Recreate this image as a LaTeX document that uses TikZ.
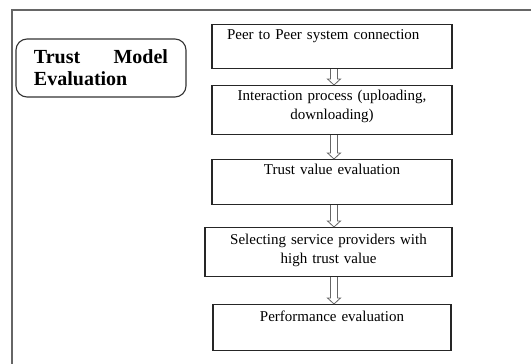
\documentclass[tikz,border=0pt]{standalone}
\usepackage{fontspec}
\setmainfont{Liberation Serif}
\usetikzlibrary{calc}

\tikzset{
  caixa/.style={draw=black!85, line width=1.1pt, inner xsep=0pt, inner ysep=4pt,
    text height=11pt, text width=#1, align=center,
    font=\fontsize{15}{19}\selectfont},
  caixa/.default=240pt,
  % seta vazada (contorno), de \tikztostart ate \tikztotarget
  seta/.style={draw=black!60, line width=0.8pt, line join=miter,
    to path={($(\tikztostart)+(-1.5,0)$) -- ($(\tikztotarget)+(-1.5,-6)$)
      -- ($(\tikztotarget)+(-4.5,-6)$) -- ($(\tikztotarget)+(2,0)$)
      -- ($(\tikztotarget)+(8.5,-6)$) -- ($(\tikztotarget)+(5.5,-6)$)
      -- ($(\tikztostart)+(5.5,0)$)}}
}

\begin{document}
\begin{tikzpicture}[x=1pt, y=-1pt]
    % x e y em pontos (1pt = 1 pixel da figura), y cresce para baixo
    \useasboundingbox (0,0) rectangle (531,364);

    % Moldura (so topo e lado esquerdo)
    \draw[black!60, line width=1.5pt] (531,10) -- (12,10) -- (12,364);

    % Titulo
    \node[draw=black!80, line width=1.1pt, rounded corners=11pt, minimum width=170pt,
          minimum height=58pt, text width=134pt, align=left, inner sep=0pt,
          font=\fontsize{20}{22}\selectfont\bfseries] (titulo) at (101,68)
          {Trust\hfill Model\\Evaluation};

    % Etapas
    \node[caixa=210pt, align=left, inner xsep=15pt, text depth=25pt, anchor=north] (p1) at (332,24)
          {Peer to Peer system connection};
    \node[caixa, text depth=30pt, anchor=north] (p2) at (332,85)
          {Interaction process (uploading,\\downloading)};
    \node[caixa, text depth=26pt, anchor=north] (p3) at (332,159)
          {Trust value evaluation};
    \node[caixa=247pt, text depth=28pt, text height=13pt, anchor=north] (p4) at (328.5,227)
          {Selecting service providers with\\high trust value};
    \node[caixa=238pt, text depth=25pt, text height=13pt, anchor=north] (p5) at (332,304)
          {Performance evaluation};

    % Setas
    \draw[seta] (p1.south) to (p2.north);
    \draw[seta] (p2.south) to (p3.north);
    \draw[seta] (p3.south) to (p3.south |- p4.north);
    \draw[seta] (p4.south -| p5.north) to (p5.north);
\end{tikzpicture}
\end{document}
